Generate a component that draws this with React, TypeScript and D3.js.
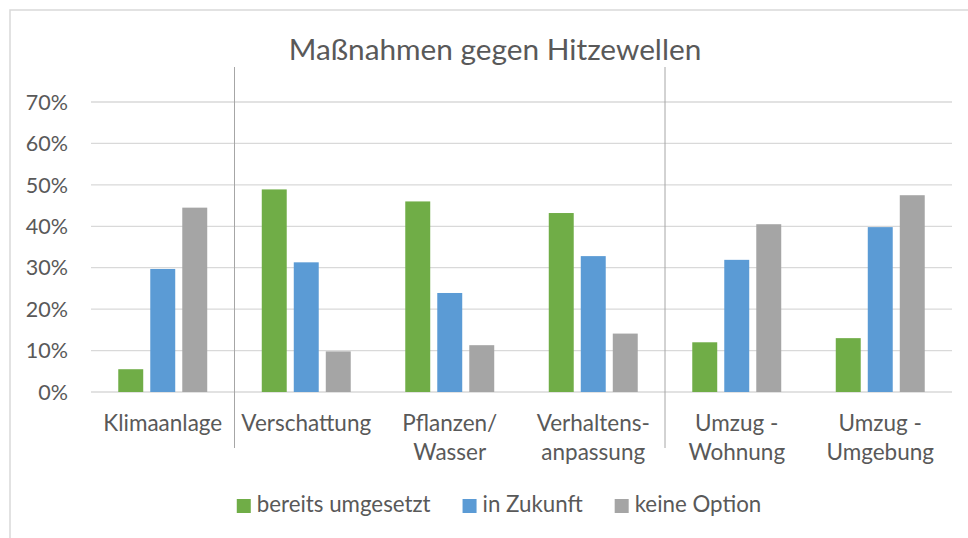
import { useEffect, useRef } from 'react';
import * as d3 from 'd3';

// Daten (Anteile in %)
const categories = ['Klimaanlage', 'Verschattung', 'Pflanzen/Wasser', 'Verhaltensanpassung', 'Umzug - Wohnung', 'Umzug - Umgebung'];
const categoryLines = [['Klimaanlage'], ['Verschattung'], ['Pflanzen/', 'Wasser'], ['Verhaltens-', 'anpassung'], ['Umzug -', 'Wohnung'], ['Umzug -', 'Umgebung']];
const seriesNames = ['bereits umgesetzt', 'in Zukunft', 'keine Option'];
const bereitsUmgesetzt = [5.5, 48.9, 46.0, 43.2, 12.0, 13.0];
const inZukunft = [29.7, 31.3, 23.9, 32.8, 31.9, 39.8];
const keineOption = [44.5, 9.8, 11.3, 14.1, 40.5, 47.5];
const yTicks = [0, 10, 20, 30, 40, 50, 60, 70];
const separatorsAfter = ['Klimaanlage', 'Verhaltensanpassung'];

const colors = ['#70AD47', '#5B9BD5', '#A5A5A5'];
const FONT = 'Lato, "Open Sans", sans-serif';
const TEXT = '#595959';

const App = () => {
  const ref = useRef<SVGSVGElement>(null);

  useEffect(() => {
    document.body.style.margin = '0';
    const svg = d3.select(ref.current);
    svg.selectAll('*').remove();
    const width = 968;
    const height = 538;
    const margin = { top: 102, right: 16, bottom: 146, left: 91 };
    const innerW = width - margin.left - margin.right;
    const innerH = height - margin.top - margin.bottom;

    const values = [bereitsUmgesetzt, inZukunft, keineOption];

    // frame
    svg.append('rect')
      .attr('x', 10).attr('y', 10)
      .attr('width', 980).attr('height', 540)
      .attr('fill', '#fff').attr('stroke', '#d9d9d9').attr('stroke-width', 1.5);

    svg.append('text').text('Maßnahmen gegen Hitzewellen')
      .attr('x', 495).attr('y', 60)
      .attr('text-anchor', 'middle')
      .attr('font-family', FONT).attr('font-size', 29.8)
      .attr('fill', TEXT);

    const g = svg.append('g').attr('transform', `translate(${margin.left},${margin.top})`);

    const x0 = d3.scaleBand().domain(categories).range([0, innerW]).padding(0);
    const groupW = x0.bandwidth() * 0.62;
    const x1 = d3.scaleBand().domain(seriesNames)
      .range([(x0.bandwidth() - groupW) / 2, (x0.bandwidth() + groupW) / 2])
      .paddingInner(0.22).paddingOuter(0);
    const y = d3.scaleLinear().domain([0, 70]).range([innerH, 0]);

    // grid
    g.append('g').selectAll('line').data(yTicks).enter().append('line')
      .attr('x1', 0).attr('x2', innerW)
      .attr('y1', d => y(d)).attr('y2', d => y(d))
      .attr('stroke', '#d9d9d9').attr('stroke-width', 1.3);

    // y labels
    g.append('g').selectAll('text').data(yTicks).enter().append('text')
      .text(d => `${d}%`)
      .attr('x', -23).attr('y', d => y(d)).attr('dy', '0.36em')
      .attr('text-anchor', 'end')
      .attr('font-family', FONT).attr('font-size', 21.5)
      .attr('fill', TEXT);

    // bars
    categories.forEach((c, i) => {
      const cg = g.append('g').attr('transform', `translate(${x0(c)},0)`);
      cg.selectAll('rect').data(seriesNames).enter().append('rect')
        .attr('x', s => x1(s) as number)
        .attr('width', x1.bandwidth())
        .attr('y', (s, k) => y(values[k][i]))
        .attr('height', (s, k) => innerH - y(values[k][i]))
        .attr('fill', (s, k) => colors[k]);
    });

    // category labels
    const lab = g.append('g');
    categories.forEach((c, i) => {
      const t = lab.append('text')
        .attr('text-anchor', 'middle')
        .attr('font-family', FONT).attr('font-size', 22.5)
        .attr('fill', TEXT);
      categoryLines[i].forEach((line, j) => {
        t.append('tspan')
          .attr('x', (x0(c) as number) + x0.bandwidth() / 2)
          .attr('y', innerH + 39 + j * 29)
          .text(line);
      });
    });

    // separators
    g.append('g').selectAll('line').data(separatorsAfter).enter().append('line')
      .attr('x1', d => (x0(d) as number) + x0.bandwidth())
      .attr('x2', d => (x0(d) as number) + x0.bandwidth())
      .attr('y1', -35).attr('y2', innerH + 56)
      .attr('stroke', '#a6a6a6').attr('stroke-width', 1);

    // legend
    const legend = svg.append('g');
    const items = legend.selectAll('g').data(seriesNames).enter().append('g');
    items.append('rect').attr('width', 14).attr('height', 14).attr('y', 499)
      .attr('fill', (d, k) => colors[k]);
    items.append('text').text(d => d)
      .attr('x', 20).attr('y', 512)
      .attr('font-family', FONT).attr('font-size', 22.3)
      .attr('fill', TEXT);
    let offset = 0;
    const widths: number[] = [];
    items.each(function () {
      const w = (d3.select(this).select('text').node() as SVGTextElement).getComputedTextLength();
      widths.push(20 + w);
    });
    const gap = 32;
    const total = d3.sum(widths) + gap * (widths.length - 1);
    offset = 499 - total / 2;
    items.attr('transform', (d, k) => {
      const xo = offset;
      offset += widths[k] + gap;
      return `translate(${xo},0)`;
    });
  }, []);

  return (
    <div>
      <svg ref={ref} width={968} height={538} style={{ display: 'block' }}></svg>
    </div>
  );
};

export default App;
